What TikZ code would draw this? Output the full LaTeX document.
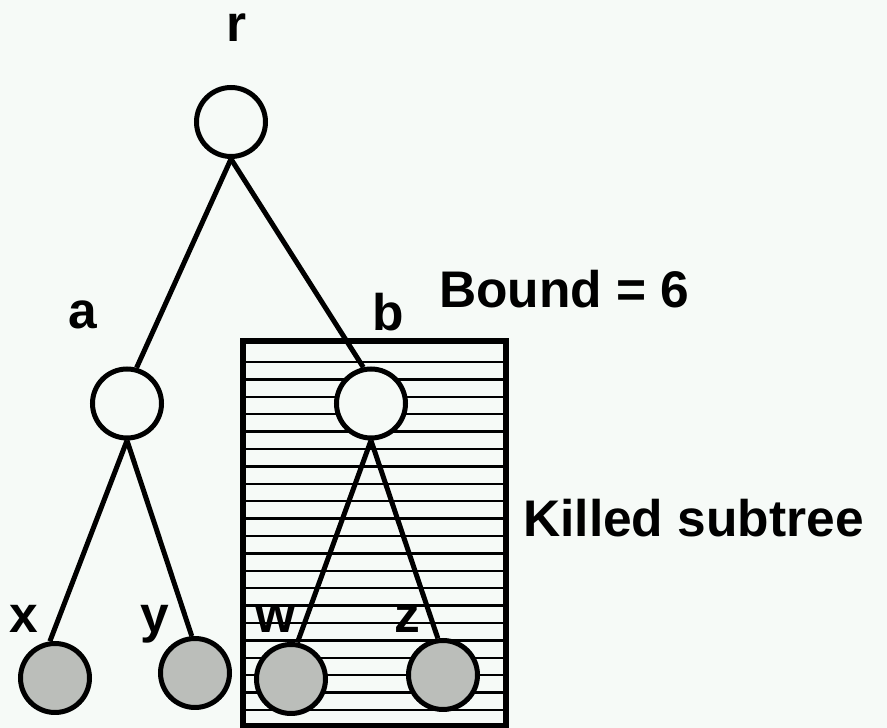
\documentclass[tikz,border=0pt]{standalone}
\usepackage{fontspec}
\setmainfont{Liberation Sans}
\usetikzlibrary{positioning}
\definecolor{paper}{RGB}{246,250,247}
\definecolor{leafgray}{RGB}{187,190,186}

\begin{document}
\begin{tikzpicture}[x=1pt,y=1pt,on grid,
  inode/.style={circle,draw=black,line width=5pt,fill=paper,minimum size=69pt,inner sep=0pt},
  leaf/.style={inode,fill=leafgray},
  branch/.style={line width=5pt},
  hatch/.style={line width=2.5pt},
  lbl/.style={font=\fontsize{51.5}{60}\selectfont\bfseries,inner sep=0pt,anchor=base}]
\fill[paper] (0,0) rectangle (887,728);
\useasboundingbox (0,0) rectangle (887,728);

% hatched box behind the right subtree
\coordinate (box-nw) at (243,386.5);
\coordinate (box-se) at (506,2);
\foreach \k in {0,...,20}
  \draw[hatch] (243,{366-17.4*\k}) -- (506,{366-17.4*\k});
\draw[line width=6pt] (box-nw) rectangle (box-se);

% the tree
\node[inode] (r) at (231,606) {};
\node[inode, below left=281.5pt and 104pt of r] (a) {};
\node[inode, below right=281.5pt and 140pt of r] (b) {};
\node[leaf, below left=274.5pt and 72pt of a] (x) {};
\node[leaf, below right=269.5pt and 68pt of a] (y) {};
\node[leaf, below left=275.5pt and 80pt of b] (w) {};
\node[leaf, below right=271.5pt and 72pt of b] (z) {};

\draw[branch] (r.south) -- (a.75);
\draw[branch] (r.south) -- (b.102);
\draw[branch] (a.south) -- (x.98);
\draw[branch] (a.south) -- (y.95);
\draw[branch] (b.south) -- (w.80);
\draw[branch] (b.south) -- (z.98);

% names
\node[lbl] (r-name) at (237,686) {r};
\node[lbl] (a-name) at (83,399) {a};
\node[lbl] (b-name) at (388,397) {b};
\node[lbl] (x-name) at (24,95) {x};
\node[lbl] (y-name) at (155,95) {y};
\node[lbl] (w-name) at (276,95) {w};
\node[lbl] (z-name) at (407,95) {z};

\node[lbl, anchor=base west] (bound) at (439,420) {Bound = 6};
\node[lbl, anchor=base west] (killed) at (523,191) {Killed subtree};
\end{tikzpicture}
\end{document}
